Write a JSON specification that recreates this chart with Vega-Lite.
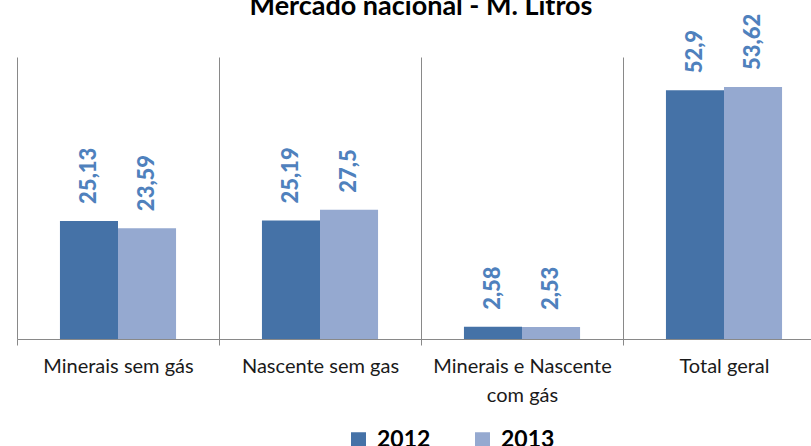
{
  "$schema": "https://vega.github.io/schema/vega-lite/v6.json",
  "width": 794,
  "height": 282,
  "autosize": {"type": "none"},
  "padding": {"left": 17, "top": 57, "right": 0, "bottom": 107},
  "background": "white",
  "config": {
    "view": {"stroke": null},
    "font": "Lato",
    "locale": {"number": {"decimal": ",", "thousands": ".", "grouping": [3], "currency": ["", " €"]}}
  },
  "title": {
    "text": "Mercado nacional - M. Litros",
    "font": "Lato",
    "fontSize": 27,
    "fontWeight": "bold",
    "color": "#000000",
    "anchor": "middle",
    "dx": 7,
    "offset": -34,
    "baseline": "bottom"
  },
  "data": {
    "values": [
      {"categoria": "Minerais sem gás", "ano": "2012", "valor": 25.13},
      {"categoria": "Minerais sem gás", "ano": "2013", "valor": 23.59},
      {"categoria": "Nascente sem gas", "ano": "2012", "valor": 25.19},
      {"categoria": "Nascente sem gas", "ano": "2013", "valor": 27.5},
      {"categoria": "Minerais e Nascente com gás", "ano": "2012", "valor": 2.58},
      {"categoria": "Minerais e Nascente com gás", "ano": "2013", "valor": 2.53},
      {"categoria": "Total geral", "ano": "2012", "valor": 52.9},
      {"categoria": "Total geral", "ano": "2013", "valor": 53.62}
    ]
  },
  "encoding": {
    "x": {
      "field": "categoria",
      "type": "nominal",
      "sort": ["Minerais sem gás", "Nascente sem gas", "Minerais e Nascente com gás", "Total geral"],
      "scale": {"range": [0, 808], "paddingInner": 0, "paddingOuter": 0},
      "axis": {
        "title": null,
        "domainColor": "#898989",
        "domainWidth": 1,
        "tickColor": "#898989",
        "tickSize": 6,
        "tickBand": "extent",
        "grid": true,
        "gridColor": "#898989",
        "gridWidth": 1,
        "labelFont": "Lato",
        "labelFontSize": 20,
        "labelColor": "#1a1a1a",
        "labelPadding": 11,
        "labelAngle": 0,
        "labelLineHeight": 29,
        "labelLimit": 0,
        "labelExpr": "datum.label == 'Minerais e Nascente com gás' ? ['Minerais e Nascente', 'com gás'] : datum.label"
      }
    },
    "xOffset": {
      "field": "ano",
      "type": "nominal",
      "scale": {"paddingInner": 0, "paddingOuter": 0.74}
    },
    "y": {
      "field": "valor",
      "type": "quantitative",
      "scale": {"domain": [0, 60], "nice": false},
      "axis": null
    }
  },
  "layer": [
    {
      "mark": {"type": "bar"},
      "encoding": {
        "color": {
          "field": "ano",
          "type": "nominal",
          "scale": {"domain": ["2012", "2013"], "range": ["#4572A7", "#95A9D0"]},
          "legend": {
            "orient": "none",
            "legendX": 330,
            "legendY": 371,
            "direction": "horizontal",
            "title": null,
            "symbolType": "square",
            "symbolSize": 225,
            "symbolStrokeWidth": 0,
            "labelFont": "Lato",
            "labelFontSize": 23,
            "labelFontWeight": "bold",
            "labelColor": "#000000",
            "labelOffset": 7,
            "columnPadding": 40
          }
        }
      }
    },
    {
      "mark": {
        "type": "text",
        "angle": 270,
        "align": "left",
        "baseline": "middle",
        "dx": 17,
        "font": "Lato",
        "fontSize": 22,
        "fontWeight": 900,
        "color": "#4F81BD"
      },
      "encoding": {
        "text": {"field": "valor", "type": "quantitative", "format": "~g"}
      }
    }
  ]
}
